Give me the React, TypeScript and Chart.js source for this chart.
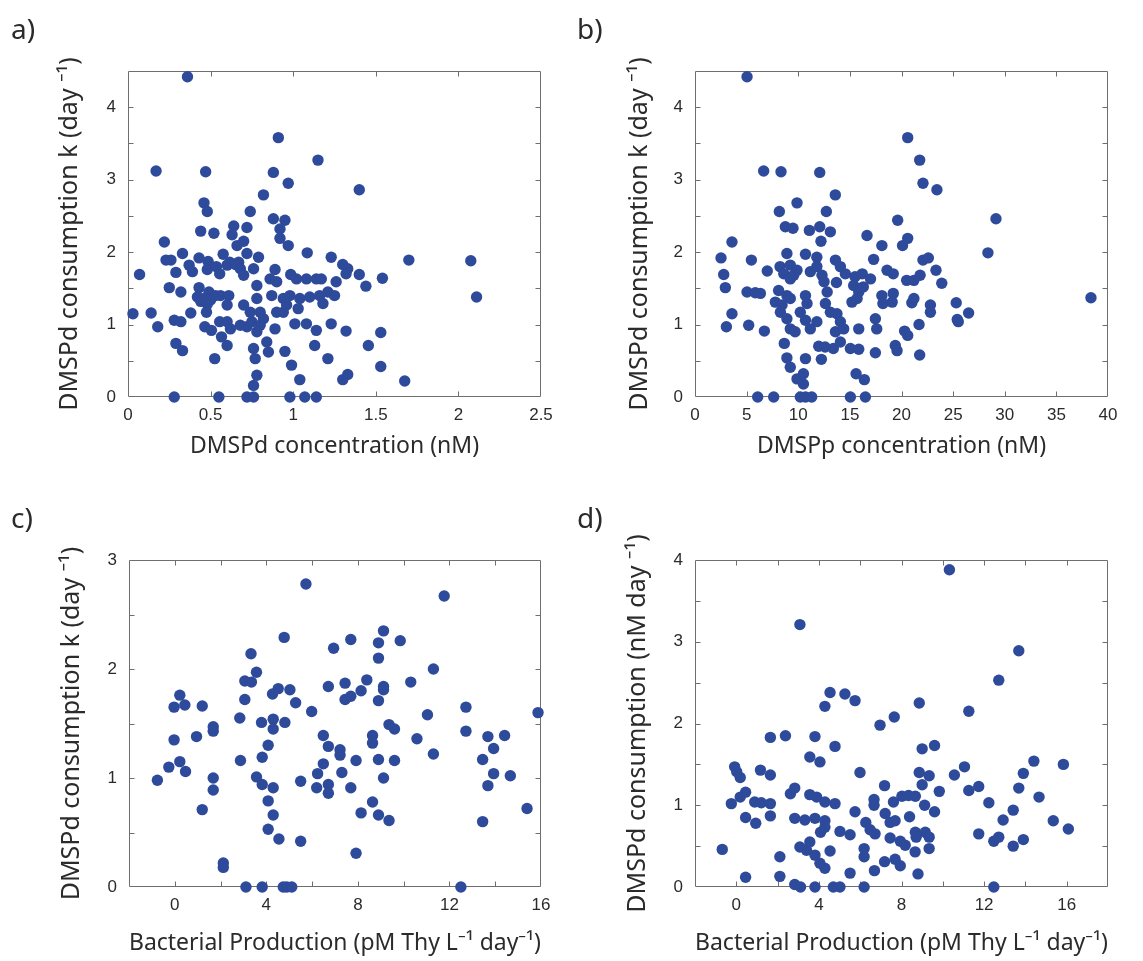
import React, { useEffect, useRef } from 'react';
import { Chart, registerables } from 'chart.js';

Chart.register(...registerables);

// ---------- Panel a: DMSPd concentration (nM) vs consumption k ----------
const aDmspd = [
  0.36, 0.91, 1.15, 0.17, 0.47, 0.88, 0.97, 0.82, 0.46, 0.48,
  0.74, 0.88, 0.95, 0.44, 0.52, 0.64, 0.72, 0.63, 0.66, 0.70,
  0.92, 0.92, 0.97, 0.22, 1.085, 1.23, 0.33, 0.23, 0.26, 0.43,
  0.485, 0.576, 0.616, 0.67, 0.72, 0.79, 0.37, 0.39, 0.29, 0.07,
  0.48, 0.535, 0.555, 0.60, 0.65, 0.68, 0.70, 0.76, 0.89, 0.86,
  0.90, 0.985, 1.02, 1.08, 1.14, 1.17, 1.26, 1.30, 0.25, 0.32,
  0.43, 0.49, 0.56, 0.78, 0.42, 0.44, 0.46, 0.48, 0.50, 0.53,
  0.61, 0.60, 0.87, 0.94, 0.98, 1.04, 1.10, 1.16, 1.21, 1.25,
  0.78, 0.38, 0.03, 0.14, 0.475, 0.70, 0.74, 0.80, 0.82, 0.90,
  0.94, 0.96, 1.03, 1.18, 0.28, 0.32, 0.18, 0.465, 0.505, 0.555,
  0.60, 0.62, 0.68, 0.72, 0.75, 0.78, 0.80, 0.89, 1.01, 1.08,
  1.14, 1.23, 0.566, 0.60, 0.76, 0.84, 0.85, 0.77, 0.29, 0.33,
  0.525, 0.95, 0.99, 1.13, 1.21, 0.78, 0.76, 1.04, 0.28, 0.55,
  0.72, 0.76, 0.98, 1.07, 1.14, 1.40, 1.33, 1.32, 1.40, 1.44,
  1.54, 1.70, 2.075, 2.11, 1.32, 1.53, 1.455, 1.53, 1.33, 1.30,
  1.675,
];
const aRateK = [
  4.42, 3.58, 3.27, 3.12, 3.11, 3.10, 2.95, 2.79, 2.68, 2.56,
  2.56, 2.46, 2.44, 2.29, 2.26, 2.36, 2.34, 2.24, 2.09, 2.15,
  2.32, 2.19, 2.09, 2.14, 1.99, 1.93, 1.98, 1.89, 1.89, 1.92,
  1.87, 1.97, 1.86, 1.86, 1.98, 1.93, 1.82, 1.73, 1.72, 1.69,
  1.76, 1.80, 1.70, 1.82, 1.83, 1.77, 1.68, 1.77, 1.76, 1.63,
  1.59, 1.69, 1.63, 1.63, 1.63, 1.63, 1.59, 1.83, 1.51, 1.45,
  1.51, 1.45, 1.40, 1.54, 1.38, 1.32, 1.36, 1.28, 1.34, 1.40,
  1.40, 1.27, 1.40, 1.36, 1.40, 1.36, 1.38, 1.40, 1.45, 1.40,
  1.36, 1.16, 1.15, 1.16, 1.17, 1.27, 1.17, 1.17, 1.08, 1.17,
  1.17, 1.27, 1.22, 1.29, 1.06, 1.04, 0.97, 0.97, 0.92, 1.04,
  1.04, 0.94, 0.99, 0.97, 1.04, 0.90, 0.99, 0.94, 1.01, 1.01,
  0.92, 1.01, 0.83, 0.71, 0.67, 0.76, 0.62, 0.53, 0.74, 0.64,
  0.53, 0.63, 0.44, 0.71, 0.53, 0.30, 0.16, 0.24, 0, 0,
  0, 0, 0, 0, 0, 2.86, 1.77, 1.70, 1.69, 1.53,
  1.64, 1.89, 1.88, 1.38, 0.91, 0.89, 0.71, 0.42, 0.31, 0.24,
  0.22,
];

// ---------- Panel b: DMSPp concentration (nM) vs consumption k ----------
const bDmspp = [
  5.04, 20.6, 6.65, 8.33, 12.08, 13.59, 9.88, 8.17, 12.72, 19.63,
  8.75, 9.49, 11.08, 12.08, 13.11, 12.2, 16.66, 3.58, 20.6, 20.1,
  18.1, 17.3, 2.52, 5.46, 8.9, 10.7, 11.8, 8.24, 9.23, 9.88,
  8.6, 9.23, 9.56, 11.17, 11.8, 12.3, 13.6, 14.08, 14.56, 15.5,
  16.2, 17.0, 18.6, 19.2, 20.5, 7.0, 2.78, 2.94, 5.04, 5.84,
  6.33, 8.1, 8.9, 7.78, 8.43, 9.23, 10.7, 10.85, 12.5, 12.8,
  13.7, 12.63, 13.11, 15.37, 15.86, 16.3, 15.2, 15.7, 18.1, 18.2,
  19.2, 19.1, 21.0, 3.58, 3.04, 5.2, 6.72, 8.27, 8.9, 9.23,
  9.7, 10.2, 10.7, 11.17, 11.8, 13.75, 14.08, 13.6, 14.4, 15.86,
  17.47, 17.6, 20.3, 20.6, 8.65, 11.98, 12.6, 13.4, 14.08, 15.05,
  15.86, 17.47, 19.4, 19.57, 8.9, 9.23, 10.7, 12.24, 9.88, 10.5,
  10.5, 15.6, 16.4, 6.07, 7.62, 10.2, 10.7, 11.3, 15.05, 16.5,
  21.76, 22.08, 23.43, 29.15, 28.37, 22.08, 22.6, 23.34, 23.9, 21.2,
  21.8, 21.2, 22.8, 22.8, 25.3, 26.5, 25.4, 25.5, 21.7, 21.76,
  38.35,
];
const bRateK = [
  4.42, 3.58, 3.12, 3.11, 3.10, 2.79, 2.68, 2.56, 2.56, 2.44,
  2.35, 2.33, 2.30, 2.35, 2.28, 2.15, 2.23, 2.14, 2.19, 2.09,
  2.09, 1.90, 1.92, 1.89, 1.98, 1.97, 1.93, 1.80, 1.82, 1.75,
  1.70, 1.63, 1.68, 1.73, 1.80, 1.68, 1.89, 1.80, 1.70, 1.66,
  1.70, 1.63, 1.75, 1.70, 1.61, 1.74, 1.69, 1.51, 1.45, 1.44,
  1.43, 1.47, 1.40, 1.31, 1.27, 1.36, 1.40, 1.29, 1.59, 1.45,
  1.58, 1.29, 1.17, 1.54, 1.45, 1.52, 1.31, 1.36, 1.40, 1.29,
  1.43, 1.31, 1.30, 1.15, 0.97, 0.99, 0.91, 1.17, 1.08, 0.94,
  0.90, 1.17, 1.06, 0.94, 1.04, 1.15, 1.04, 0.90, 0.94, 0.94,
  1.08, 0.94, 0.91, 0.85, 0.74, 0.70, 0.69, 0.67, 0.76, 0.67,
  0.66, 0.61, 0.71, 0.64, 0.54, 0.41, 0.53, 0.52, 0.25, 0.32,
  0.18, 0.32, 0.24, 0, 0, 0, 0, 0, 0, 0,
  3.27, 2.95, 2.86, 2.46, 1.99, 1.89, 1.92, 1.75, 1.57, 1.61,
  1.68, 1.36, 1.27, 1.17, 1.30, 1.16, 1.07, 1.04, 1.00, 0.58,
  1.37,
];

// ---------- Panel c: Bacterial production vs consumption k ----------
const cProduction = [
  5.73, 4.78, 6.94, 3.33, 3.57, 3.06, 3.35, 6.71, 0.22, -0.03,
  0.44, 1.20, 3.06, 4.27, 4.52, 5.03, 5.28, 5.98, 2.84, 1.68,
  1.68, 3.79, 4.30, 4.30, 4.81, -0.03, 0.95, 4.08, 6.49, 6.71,
  3.82, 2.87, 0.22, -0.26, 0.47, -0.76, 1.68, 1.68, 3.57, 3.82,
  4.30, 5.50, 6.49, 6.24, 6.20, 6.71, 6.71, 4.08, 1.20, 4.30,
  4.08, 4.55, 5.50, 2.12, 2.12, 3.11, 3.82, 4.74, 4.89, 5.11,
  11.77, 7.69, 9.12, 8.90, 9.85, 8.90, 11.30, 7.44, 8.39, 10.31,
  9.12, 9.12, 8.14, 7.44, 7.69, 8.90, 11.04, 12.72, 15.87, 9.36,
  9.60, 8.64, 8.64, 10.58, 12.72, 13.68, 14.41, 13.93, 7.22, 7.22,
  7.92, 8.90, 9.60, 11.30, 13.45, 7.30, 9.12, 13.93, 14.66, 7.69,
  13.68, 8.64, 8.14, 8.90, 9.36, 15.39, 13.45, 7.92, 12.50,
];
const cRateK = [
  2.78, 2.29, 2.19, 2.14, 1.97, 1.89, 1.88, 1.84, 1.76, 1.65,
  1.67, 1.66, 1.72, 1.77, 1.82, 1.81, 1.69, 1.61, 1.55, 1.47,
  1.43, 1.51, 1.54, 1.45, 1.51, 1.35, 1.38, 1.30, 1.39, 1.29,
  1.19, 1.16, 1.15, 1.10, 1.06, 0.98, 1.00, 0.89, 1.01, 0.94,
  0.91, 0.97, 1.13, 1.04, 0.91, 0.94, 0.86, 0.79, 0.71, 0.66,
  0.53, 0.44, 0.42, 0.22, 0.18, 0, 0, 0, 0, 0,
  2.67, 2.27, 2.35, 2.24, 2.26, 2.10, 2.00, 1.87, 1.90, 1.88,
  1.84, 1.81, 1.80, 1.72, 1.75, 1.71, 1.58, 1.65, 1.60, 1.49,
  1.45, 1.39, 1.32, 1.36, 1.43, 1.38, 1.39, 1.27, 1.26, 1.21,
  1.16, 1.17, 1.16, 1.22, 1.17, 1.05, 1.00, 1.04, 1.02, 0.91,
  0.93, 0.78, 0.68, 0.66, 0.61, 0.72, 0.60, 0.31, 0.0,
];

// ---------- Panel d: Bacterial production vs consumption (nM/day) ----------
const dProduction = [
  3.08, 4.54, 5.26, 5.75, 4.29, 6.96, 7.65, 8.86, 1.65, 2.38,
  3.81, 4.78, 3.56, 4.05, -0.08, 0.19, 1.17, 1.65, 5.99, 8.86,
  9.0, 7.18, -0.24, 0.19, 0.45, 0.89, 1.21, 1.65, 2.62, 2.83,
  3.56, 3.89, 4.29, 4.78, 6.67, 6.67, 7.61, 8.02, 8.34, 8.67,
  5.75, 0.45, 0.94, 1.65, 2.83, 3.32, 3.81, 4.29, 4.08, 4.29,
  5.02, 5.51, 6.27, 6.48, 6.72, 7.21, 7.45, 7.69, 8.39, 8.67,
  8.71, 7.45, 7.94, 8.18, -0.68, 3.08, 3.40, 3.56, 3.81, 4.05,
  4.29, 4.54, 6.19, 6.19, 2.11, 7.18, 7.69, 7.94, 6.69, 5.51,
  8.8, 0.45, 2.11, 2.83, 3.11, 3.81, 4.70, 5.02, 6.19,
  10.32, 13.68, 12.71, 11.26, 9.0, 9.6, 9.34, 9.83, 10.56, 11.05,
  11.26, 11.74, 12.23, 14.41, 15.84, 13.9, 13.68, 14.66, 9.12, 9.6,
  13.41, 12.92, 15.35, 16.08, 9.15, 9.34, 8.66, 9.34, 11.74, 12.47,
  12.71, 13.41, 13.9, 12.47, 0.02,
];
const dConsumption = [
  3.21, 2.38, 2.36, 2.28, 2.21, 1.98, 2.08, 2.25, 1.83, 1.85,
  1.84, 1.72, 1.59, 1.53, 1.47, 1.34, 1.43, 1.37, 1.40, 1.40,
  1.25, 1.24, 1.02, 1.10, 1.16, 1.04, 1.03, 1.02, 1.14, 1.21,
  1.13, 1.10, 1.04, 1.02, 1.07, 1.00, 1.04, 1.11, 1.12, 1.11,
  0.92, 0.85, 0.78, 0.87, 0.84, 0.82, 0.84, 0.81, 0.67, 0.73,
  0.68, 0.64, 0.79, 0.70, 0.65, 0.90, 0.79, 0.81, 0.86, 0.67,
  0.61, 0.60, 0.56, 0.51, 0.46, 0.49, 0.45, 0.55, 0.39, 0.29,
  0.23, 0.44, 0.47, 0.37, 0.37, 0.31, 0.34, 0.26, 0.20, 0.17,
  0.16, 0.12, 0.13, 0.03, 0, 0, 0, 0, 0,
  3.88, 2.89, 2.53, 2.15, 1.69, 1.73, 1.36, 1.17, 1.37, 1.47,
  1.18, 1.23, 1.03, 1.54, 1.50, 1.39, 1.21, 1.10, 1.00, 0.92,
  0.94, 0.82, 0.81, 0.71, 0.67, 0.61, 0.43, 0.47, 0.65, 0.56,
  0.61, 0.50, 0.58, 0.0, 1.41,
];

// ---------- Axis texts ----------
const panelLetters = ['a)', 'b)', 'c)', 'd)'];
const xTitles = [
  'DMSPd concentration (nM)',
  'DMSPp concentration (nM)',
  'Bacterial Production (pM Thy L\u207B\u00B9 day\u207B\u00B9)',
  'Bacterial Production (pM Thy L\u207B\u00B9 day\u207B\u00B9)',
];
const yTitles = [
  'DMSPd consumption k (day \u207B\u00B9)',
  'DMSPd consumption k (day \u207B\u00B9)',
  'DMSPd consumption k (day \u207B\u00B9)',
  'DMSPd consumption (nM day \u207B\u00B9)',
];

const TICK_FONT = { family: "'Liberation Sans', Arial, sans-serif", size: 17 };
const X_TITLE_FONT = { family: "'Noto Sans', sans-serif", size: 23, lineHeight: 1.2 };
const Y_TITLE_FONT = { family: "'Noto Sans', sans-serif", size: 25, lineHeight: 1.2 };
const TEXT_COLOR = '#2b2b2b';
const POINT_COLOR = '#2E4A9B';
const FRAME_COLOR = '#6e6e6e';

const framePlugin = {
  id: 'matlabFrame',
  beforeDatasetsDraw(chart: any) {
    const { ctx, chartArea } = chart;
    const { left, top, right, bottom } = chartArea;
    const xs = chart.scales.x;
    const ys = chart.scales.y;
    const L = Math.round(left) + 0.5;
    const R = Math.round(right) - 0.5;
    const T = Math.round(top) + 0.5;
    const B = Math.round(bottom) - 0.5;
    const tick = 5;
    ctx.save();
    ctx.strokeStyle = FRAME_COLOR;
    ctx.lineWidth = 1;
    ctx.beginPath();
    ctx.rect(L, T, R - L, B - T);
    xs.ticks.forEach((t: any) => {
      const px = Math.round(xs.getPixelForValue(t.value)) + 0.5;
      if (px - L < 2 || R - px < 2) return;
      ctx.moveTo(px, B);
      ctx.lineTo(px, B - tick);
      ctx.moveTo(px, T);
      ctx.lineTo(px, T + tick);
    });
    ys.ticks.forEach((t: any) => {
      const py = Math.round(ys.getPixelForValue(t.value)) + 0.5;
      if (py - T < 2 || B - py < 2) return;
      ctx.moveTo(L, py);
      ctx.lineTo(L + tick, py);
      ctx.moveTo(R, py);
      ctx.lineTo(R - tick, py);
    });
    ctx.stroke();
    ctx.restore();
  },
};

type PanelCfg = {
  xs: number[];
  ys: number[];
  xMin: number; xMax: number; xStep: number; xLabelEvery: number;
  yMin: number; yMax: number; yStep: number; yLabelEvery: number;
  xTitle: string; yTitle: string;
  left: number; top: number; w: number; h: number;
  area: { l: number; t: number; r: number; b: number };
  yTitleX: number; xTitleY: number;
};

const fmt = (v: number) => String(Number(v.toFixed(3)));
const onStep = (v: number, s: number) => Math.abs(v / s - Math.round(v / s)) < 1e-6;

function Panel({ cfg }: { cfg: PanelCfg }) {
  const ref = useRef<HTMLCanvasElement | null>(null);
  useEffect(() => {
    if (!ref.current) return;
    const xlh = X_TITLE_FONT.size * X_TITLE_FONT.lineHeight;
    const ylh = Y_TITLE_FONT.size * Y_TITLE_FONT.lineHeight;
    const chart = new Chart(ref.current, {
      type: 'scatter',
      data: {
        datasets: [
          {
            data: cfg.xs.map((x, i) => ({ x, y: cfg.ys[i] })),
            backgroundColor: POINT_COLOR,
            borderWidth: 0,
            pointRadius: 5.7,
            pointHoverRadius: 5.7,
            clip: false as any,
          },
        ],
      },
      options: {
        responsive: false,
        animation: false,
        events: [],
        layout: { padding: { left: 0, top: cfg.area.t, right: cfg.w - cfg.area.r, bottom: 0 } },
        plugins: { legend: { display: false }, tooltip: { enabled: false } },
        scales: {
          x: {
            type: 'linear',
            min: cfg.xMin,
            max: cfg.xMax,
            grid: { display: false, drawTicks: false },
            border: { display: false },
            ticks: {
              stepSize: cfg.xStep,
              autoSkip: false,
              maxRotation: 0,
              padding: 8,
              font: TICK_FONT,
              color: TEXT_COLOR,
              callback: (v: any) => (onStep(Number(v), cfg.xLabelEvery) ? fmt(Number(v)) : ''),
            },
            title: {
              display: true,
              text: cfg.xTitle,
              font: X_TITLE_FONT,
              color: TEXT_COLOR,
              padding: { top: 0, bottom: cfg.h - cfg.xTitleY - xlh / 2 },
            },
            afterFit: (s: any) => {
              s.height = cfg.h - cfg.area.b;
            },
          },
          y: {
            type: 'linear',
            min: cfg.yMin,
            max: cfg.yMax,
            grid: { display: false, drawTicks: false },
            border: { display: false },
            ticks: {
              stepSize: cfg.yStep,
              autoSkip: false,
              padding: 12,
              font: TICK_FONT,
              color: TEXT_COLOR,
              callback: (v: any) => (onStep(Number(v), cfg.yLabelEvery) ? fmt(Number(v)) : ''),
            },
            title: {
              display: true,
              text: cfg.yTitle,
              font: Y_TITLE_FONT,
              color: TEXT_COLOR,
              padding: { top: cfg.yTitleX - ylh / 2, bottom: 0 },
            },
            afterFit: (s: any) => {
              s.width = cfg.area.l;
            },
          },
        },
      } as any,
      plugins: [framePlugin],
    });
    return () => chart.destroy();
  }, [cfg]);
  return (
    <canvas
      ref={ref}
      width={cfg.w}
      height={cfg.h}
      style={{ position: 'absolute', left: cfg.left, top: cfg.top, width: cfg.w, height: cfg.h }}
    />
  );
}

const panels: PanelCfg[] = [
  {
    xs: aDmspd, ys: aRateK,
    xMin: 0, xMax: 2.5, xStep: 0.5, xLabelEvery: 0.5,
    yMin: 0, yMax: 4.5, yStep: 0.5, yLabelEvery: 1,
    xTitle: xTitles[0], yTitle: yTitles[0],
    left: 0, top: 0, w: 571, h: 480,
    area: { l: 128, t: 71, r: 541, b: 397 },
    yTitleX: 70, xTitleY: 446,
  },
  {
    xs: bDmspp, ys: bRateK,
    xMin: 0, xMax: 40, xStep: 5, xLabelEvery: 5,
    yMin: 0, yMax: 4.5, yStep: 0.5, yLabelEvery: 1,
    xTitle: xTitles[1], yTitle: yTitles[1],
    left: 571, top: 0, w: 572, h: 480,
    area: { l: 124, t: 71, r: 537, b: 397 },
    yTitleX: 69, xTitleY: 446,
  },
  {
    xs: cProduction, ys: cRateK,
    xMin: -2, xMax: 16, xStep: 2, xLabelEvery: 4,
    yMin: 0, yMax: 3, yStep: 0.5, yLabelEvery: 1,
    xTitle: xTitles[2], yTitle: yTitles[2],
    left: 0, top: 480, w: 571, h: 481,
    area: { l: 129, t: 80, r: 541, b: 407 },
    yTitleX: 72, xTitleY: 463,
  },
  {
    xs: dProduction, ys: dConsumption,
    xMin: -2, xMax: 18, xStep: 2, xLabelEvery: 4,
    yMin: 0, yMax: 4, yStep: 0.5, yLabelEvery: 1,
    xTitle: xTitles[3], yTitle: yTitles[3],
    left: 571, top: 480, w: 572, h: 481,
    area: { l: 124, t: 80, r: 537, b: 407 },
    yTitleX: 67, xTitleY: 463,
  },
];

const letterPos = [
  { left: 11, top: 14 },
  { left: 577, top: 14 },
  { left: 11, top: 503 },
  { left: 577, top: 503 },
];

export default function App() {
  return (
    <div
      style={{
        position: 'absolute',
        left: 0,
        top: 0,
        width: 1143,
        height: 961,
        background: '#ffffff',
        overflow: 'hidden',
      }}
    >
      {panels.map((p, i) => (
        <Panel key={i} cfg={p} />
      ))}
      {panelLetters.map((t, i) => (
        <div
          key={t}
          style={{
            position: 'absolute',
            left: letterPos[i].left,
            top: letterPos[i].top,
            fontFamily: "'Noto Sans', sans-serif",
            fontSize: 28,
            lineHeight: '28px',
            color: TEXT_COLOR,
          }}
        >
          {t}
        </div>
      ))}
    </div>
  );
}
